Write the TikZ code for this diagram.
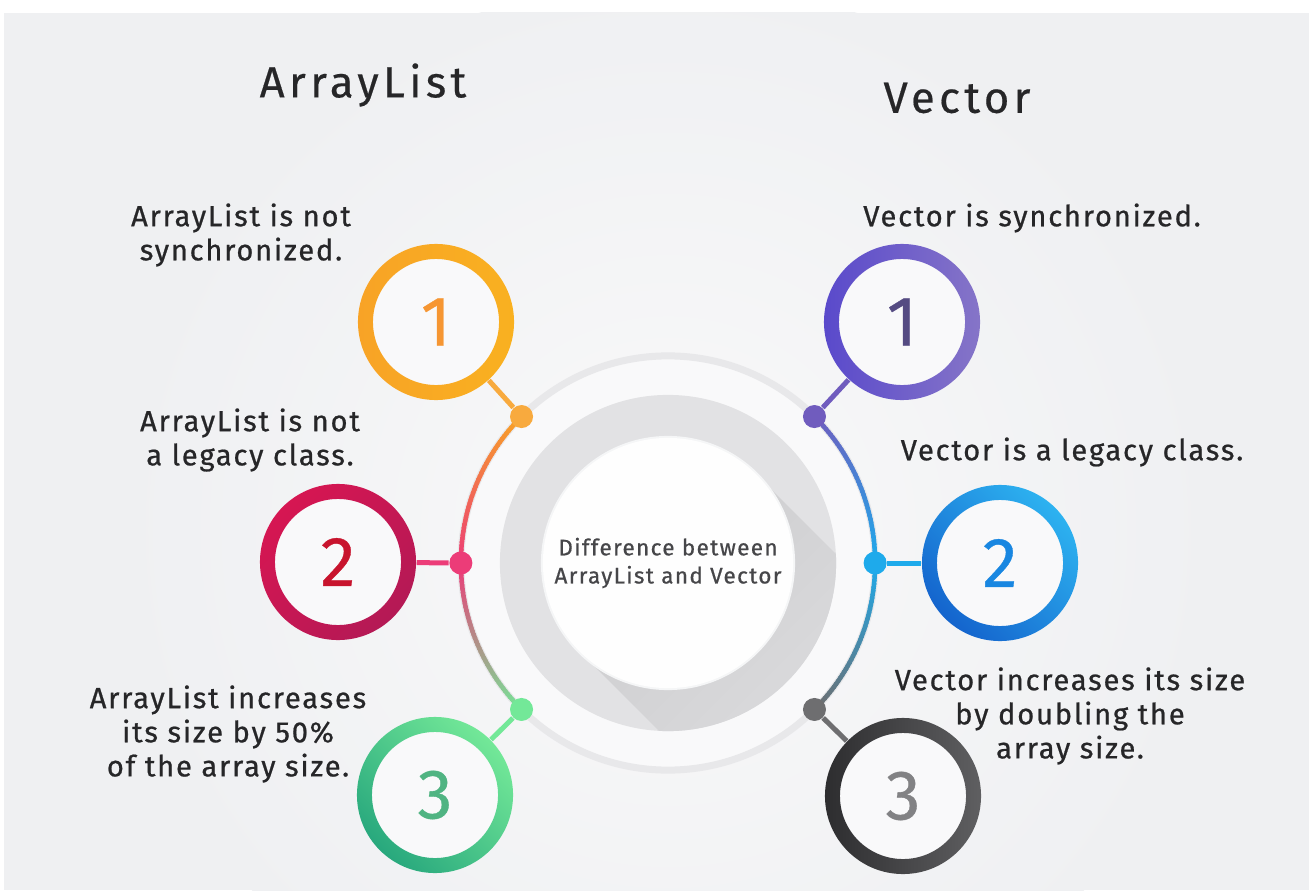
\documentclass[tikz,border=0pt]{standalone}
\usepackage{fontspec}
\setmainfont{Fira Sans}
\newfontfamily\notefont[LetterSpace=6, FakeBold=0.7]{Fira Sans}
\newfontfamily\headfont[LetterSpace=10, FakeBold=0.4]{Fira Sans}
\newfontfamily\numfont[FakeBold=0.5]{Fira Sans}
\usepackage{tikz}
\usetikzlibrary{positioning, calc}

\definecolor{bggray}{RGB}{239,240,242}
\definecolor{bglight}{RGB}{249,249,250}
\definecolor{bandgray}{RGB}{232,232,234}
\definecolor{diskgray}{RGB}{226,226,228}
\definecolor{shadowgray}{RGB}{205,205,207}
\definecolor{txtgray}{RGB}{38,38,40}
\definecolor{ctrgray}{RGB}{70,70,73}
\definecolor{orng}{RGB}{248,163,38}
\definecolor{orngnum}{RGB}{246,150,50}
\definecolor{orngdot}{RGB}{248,170,62}
\definecolor{crim}{RGB}{214,22,82}
\definecolor{crimdk}{RGB}{180,25,85}
\definecolor{crimnum}{RGB}{200,20,45}
\definecolor{pnk}{RGB}{236,60,120}
\definecolor{grn}{RGB}{40,168,125}
\definecolor{grnlt}{RGB}{115,232,152}
\definecolor{grnnum}{RGB}{80,180,130}
\definecolor{purp}{RGB}{112,92,190}
\definecolor{purpnum}{RGB}{85,75,130}
\definecolor{blu}{RGB}{20,100,205}
\definecolor{blult}{RGB}{45,178,240}
\definecolor{bludot}{RGB}{30,170,235}
\definecolor{blunum}{RGB}{25,135,225}
\definecolor{blk}{RGB}{45,45,47}
\definecolor{blkmid}{RGB}{95,95,97}
\definecolor{blkdot}{RGB}{110,110,112}
\definecolor{blknum}{RGB}{130,130,132}

\begin{document}
\begin{tikzpicture}[x=0.01cm, y=0.01cm,
    ring/.style n args={3}{circle, minimum size=1.56cm, inner sep=0pt, fill=bglight,
      path picture={\shade[even odd rule, left color=#1, right color=#2, shading angle=#3]
        (path picture bounding box.center) circle (0.78cm) circle (0.63cm);}},
    num/.style={font=\numfont\fontsize{20}{24}\selectfont, text=#1},
    dot/.style={circle, fill=#1, minimum size=0.23cm, inner sep=0pt},
    link/.style={line width=0.05cm, draw=#1},
    arcline/.style={line width=0.045cm},
    note/.style={align=center, text=txtgray, font=\notefont\fontsize{8.3}{9.7}\selectfont},
    heading/.style={text=txtgray, font=\headfont\fontsize{12.4}{15}\selectfont}]

  %\draw[help lines, step=100] (0,0) grid (1309,890);

  % background
  \useasboundingbox (0,0) rectangle (1309,890);
  \fill[white] (0,0) rectangle (1309,890);
  \begin{scope}
    \clip (4,0) rectangle (1309,877);
    \fill[bggray] (4,0) rectangle (1309,877);
    \shade[inner color=bglight, outer color=bggray] (668,360) circle (5.5cm);
  \end{scope}

  \coordinate (c) at (668,327);

  % center disk with long shadow
  \fill[bglight] (c) circle (2.07cm);
  \draw[bandgray, line width=0.07cm] (c) circle (2.07cm);
  \fill[diskgray] (c) circle (1.68cm);
  \begin{scope}
    \clip (c) circle (1.68cm);
    \shade[top color=shadowgray, bottom color=diskgray, shading angle=45]
      ([shift={(45:1.25cm)}]c) -- ++(-45:3cm) -- ++(225:2.5cm) -- ([shift={(225:1.25cm)}]c) -- cycle;
  \end{scope}
  \fill[bggray!60!white] (c) circle (1.27cm);
  \node[circle, fill=white!96!bggray, minimum size=2.5cm, inner sep=0pt, align=center,
        text=ctrgray, font=\notefont\fontsize{6.4}{8}\selectfont] (mid) at (c) {Difference between\\ArrayList and Vector};

  % colored arcs
  \foreach \a in {135,...,179}{
    \pgfmathsetmacro\t{(\a-135)/45*100}
    \draw[arcline, draw=pnk!\t!orng] ([shift={(\a:2.07cm)}]c) arc[start angle=\a, end angle=\a+1.5, radius=2.07cm];
  }
  \foreach \a in {180,...,224}{
    \pgfmathsetmacro\t{(\a-180)/45*100}
    \draw[arcline, draw=grnlt!\t!pnk] ([shift={(\a:2.07cm)}]c) arc[start angle=\a, end angle=\a+1.5, radius=2.07cm];
  }
  \foreach \a in {0,...,44}{
    \pgfmathsetmacro\t{\a/45*100}
    \draw[arcline, draw=purp!\t!bludot] ([shift={(\a:2.07cm)}]c) arc[start angle=\a, end angle=\a+1.5, radius=2.07cm];
  }
  \foreach \a in {-45,...,-1}{
    \pgfmathsetmacro\t{(\a+45)/45*100}
    \draw[arcline, draw=bludot!\t!blkdot] ([shift={(\a:2.07cm)}]c) arc[start angle=\a, end angle=\a+1.5, radius=2.07cm];
  }

  % dots on the arcs
  \node[dot=orngdot] (dl1) at ([shift={(135:2.07cm)}]c) {};
  \node[dot=pnk] (dl2) at ([shift={(180:2.07cm)}]c) {};
  \node[dot=grnlt] (dl3) at ([shift={(225:2.07cm)}]c) {};
  \node[dot=purp] (dr1) at ([shift={(45:2.07cm)}]c) {};
  \node[dot=bludot] (dr2) at ([shift={(0:2.07cm)}]c) {};
  \node[dot=blkdot] (dr3) at ([shift={(-45:2.07cm)}]c) {};

  % numbered rings
  \node[ring={orng}{orng!85!yellow}{90}, num=orngnum] (l1) at (436,568) {1};
  \node[ring={crim}{crimdk}{45}, num=crimnum] (l2) at (338,328) {2};
  \node[ring={grn}{grnlt}{135}, num=grnnum] (l3) at (435,95) {3};
  \node[ring={purp!80!blue}{purp!85!white}{90}, num=purpnum] (r1) at (902,568) {1};
  \node[ring={blu}{blult}{135}, num=blunum] (r2) at (1000,327) {2};
  \node[ring={blk}{blkmid}{90}, num=blknum] (r3) at (903,94) {3};

  \draw[link=orngdot] (l1) -- (dl1);
  \draw[link=pnk] (l2) -- (dl2);
  \draw[link=grnlt] (l3) -- (dl3);
  \draw[link=purp] (r1) -- (dr1);
  \draw[link=bludot] (r2) -- (dr2);
  \draw[link=blkdot] (r3) -- (dr3);

  % titles and notes
  \node[heading] (tl) at (363,805) {ArrayList};
  \node[heading] (tr) at (957,792) {Vector};

  \node[note] (nl1) at (241,655) {ArrayList is not\\synchronized.};
  \node[note] (nl2) at (250,450) {ArrayList is not\\a legacy class.};
  \node[note] (nl3) at (228,156) {ArrayList increases\\its size by 50\%\\of the array size.};
  \node[note] (nr1) at (1032,672) {Vector is synchronized.};
  \node[note] (nr2) at (1072,438) {Vector is a legacy class.};
  \node[note] (nr3) at (1070,174) {Vector increases its size\\by doubling the\\array size.};
\end{tikzpicture}
\end{document}
